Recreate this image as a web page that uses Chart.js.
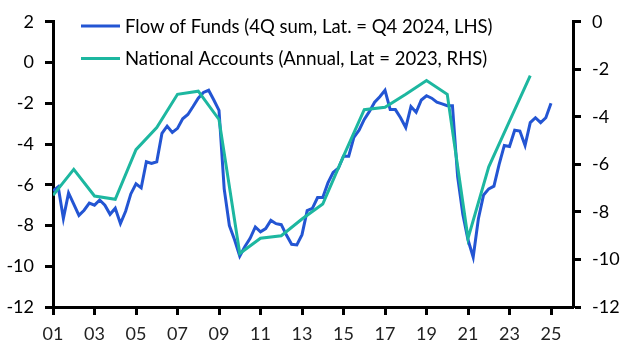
<!DOCTYPE html>
<html>
<head>
<meta charset="utf-8">
<script src="https://cdn.jsdelivr.net/npm/chart.js@4/dist/chart.umd.min.js"></script>
<style>
  html, body { margin: 0; padding: 0; background: #fff; }
  #wrap { width: 627px; height: 352px; position: relative; }
</style>
</head>
<body>
<div id="wrap"><canvas id="c" width="627" height="352"></canvas></div>
<script>
// ---- Data ----
// Flow of Funds, 4Q sum (LHS), quarters 2000Q4 .. 2024Q4
const fofStartYear = 2000;
const fofStartQuarter = 4;
const fofValues = [
  -6.3, -6.1, -7.65, -6.4, -6.95, -7.5, -7.25, -6.9, -7.0, -6.75,
  -7.0, -7.45, -7.15, -7.9, -7.3, -6.45, -5.95, -6.15, -4.87, -4.95,
  -4.87, -3.48, -3.12, -3.43, -3.23, -2.76, -2.55, -2.16, -1.75, -1.47,
  -1.36, -1.84, -2.35, -6.2, -8.0, -8.7, -9.5, -9.03, -8.63, -8.07,
  -8.31, -8.15, -7.75, -7.91, -7.96, -8.47, -8.92, -8.95, -8.45, -7.27,
  -7.16, -6.63, -6.63, -5.91, -5.4, -5.19, -4.6, -4.6, -3.67, -3.32,
  -2.79, -2.4, -1.95, -1.68, -1.36, -2.31, -2.31, -2.71, -3.19, -2.16,
  -2.44, -1.84, -1.63, -1.75, -1.95, -2.03, -2.12, -2.12, -5.6, -7.45,
  -8.7, -9.55, -7.67, -6.5, -6.2, -6.07, -5.0, -4.07, -4.12, -3.32,
  -3.36, -4.07, -2.95, -2.71, -2.95, -2.71, -2.0
];
// National Accounts, annual (RHS), years 2000 .. 2023
const naYears = [2000, 2001, 2002, 2003, 2004, 2005, 2006, 2007, 2008, 2009, 2010, 2011,
                 2012, 2013, 2014, 2015, 2016, 2017, 2018, 2019, 2020, 2021, 2022, 2023];
const naValues = [
  -7.3, -6.21, -7.33, -7.47, -5.38, -4.45, -3.05, -2.92, -4.11, -9.75,
  -9.11, -9.0, -8.3, -7.67, -5.65, -3.7, -3.6, -3.05, -2.47, -3.05,
  -9.11, -6.1, -4.18, -2.26
];
const seriesLabels = [
  'Flow of Funds (4Q sum, Lat. = Q4 2024, LHS)',
  'National Accounts (Annual, Lat = 2023, RHS)'
];
const xTickYears = [2001, 2003, 2005, 2007, 2009, 2011, 2013, 2015, 2017, 2019, 2021, 2023, 2025];
const xTickLabels = ['01', '03', '05', '07', '09', '11', '13', '15', '17', '19', '21', '23', '25'];
const leftTicks = [2, 0, -2, -4, -6, -8, -10, -12];
const rightTicks = [0, -2, -4, -6, -8, -10, -12];

// ---- Build points (plotted at period end) ----
const fofPoints = fofValues.map((v, i) => {
  const qIndex = (fofStartQuarter - 1) + i;
  const year = fofStartYear + Math.floor(qIndex / 4);
  const q = (qIndex % 4) + 1;
  return { x: year + q / 4, y: v };
});
const naPoints = naValues.map((v, i) => ({ x: naYears[i] + 1, y: v }));

const BLUE = '#2355d3';
const TEAL = '#1db7a0';
const FONT = 'Lato, "Liberation Sans", sans-serif';

const legendPlugin = {
  id: 'insideLegend',
  afterDraw(chart) {
    const ctx = chart.ctx;
    const items = [
      { color: BLUE, text: seriesLabels[0], y: 26 },
      { color: TEAL, text: seriesLabels[1], y: 58.5 }
    ];
    ctx.save();
    ctx.font = '18.5px ' + FONT;
    ctx.textBaseline = 'middle';
    ctx.textAlign = 'left';
    items.forEach(it => {
      ctx.strokeStyle = it.color;
      ctx.lineWidth = 3;
      ctx.beginPath();
      ctx.moveTo(81, it.y);
      ctx.lineTo(120, it.y);
      ctx.stroke();
      ctx.fillStyle = '#000';
      ctx.fillText(it.text, 125, it.y + 1);
    });
    ctx.restore();
  }
};

new Chart(document.getElementById('c'), {
  type: 'line',
  data: {
    datasets: [
      {
        label: seriesLabels[1], data: naPoints, yAxisID: 'yR',
        borderColor: TEAL, borderWidth: 3, pointRadius: 0, tension: 0, order: 0
      },
      {
        label: seriesLabels[0], data: fofPoints, yAxisID: 'yL',
        borderColor: BLUE, borderWidth: 3, pointRadius: 0, tension: 0, order: 1
      }
    ]
  },
  options: {
    responsive: false,
    animation: false,
    layout: { padding: { top: 15, right: 0, bottom: 0, left: 0 } },
    plugins: { legend: { display: false }, tooltip: { enabled: false } },
    scales: {
      x: {
        type: 'linear', min: 2001, max: 2026.06,
        afterBuildTicks: s => { s.ticks = xTickYears.map(v => ({ value: v })); },
        afterFit: s => { s.height = 45; },
        ticks: {
          callback: v => xTickLabels[xTickYears.indexOf(v)],
          font: { family: FONT, size: 18 }, color: '#222', padding: 8, maxRotation: 0
        },
        grid: { drawOnChartArea: false, drawTicks: true, tickLength: 8, tickWidth: 3, tickColor: '#000' },
        border: { display: true, color: '#000', width: 3 }
      },
      yL: {
        type: 'linear', position: 'left', min: -12, max: 2,
        afterBuildTicks: s => { s.ticks = leftTicks.map(v => ({ value: v })); },
        afterFit: s => { s.width = 53; },
        ticks: { font: { family: FONT, size: 18 }, color: '#000', padding: 11 },
        grid: { drawOnChartArea: false, drawTicks: true, tickLength: 8, tickWidth: 3, tickColor: '#000' },
        border: { display: true, color: '#000', width: 3 }
      },
      yR: {
        type: 'linear', position: 'right', min: -12, max: 0,
        afterBuildTicks: s => { s.ticks = rightTicks.map(v => ({ value: v })); },
        afterFit: s => { s.width = 54; },
        ticks: { font: { family: FONT, size: 18 }, color: '#000', padding: 11 },
        grid: { drawOnChartArea: false, drawTicks: true, tickLength: 8, tickWidth: 3, tickColor: '#000' },
        border: { display: true, color: '#000', width: 3 }
      }
    }
  },
  plugins: [legendPlugin]
});
</script>
</body>
</html>
